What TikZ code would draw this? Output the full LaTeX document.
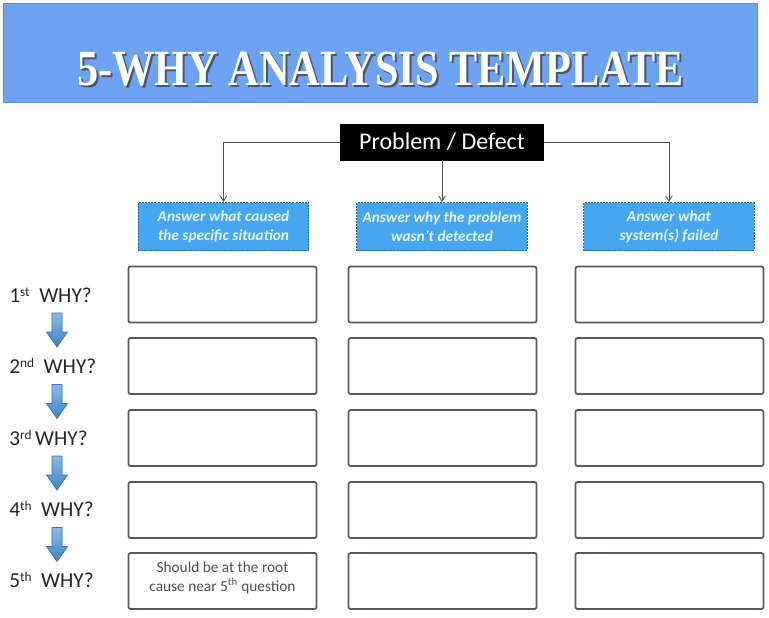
\documentclass[tikz,border=0pt]{standalone}
\usepackage{graphicx}
\usepackage{fontspec}
\setmainfont{Carlito}
\newfontfamily\titlefont{Liberation Serif}
\usetikzlibrary{arrows.meta}
\definecolor{bannerblue}{HTML}{6EA2F2}
\definecolor{bannerline}{HTML}{5B8DDB}
\definecolor{titleshadow}{HTML}{4A5570}
\definecolor{boxgray}{HTML}{555A5C}
\definecolor{qblue}{HTML}{47A6F0}
\definecolor{qborder}{HTML}{2E6A9E}
\definecolor{qtext}{HTML}{E4F8FF}
\definecolor{connc}{HTML}{505050}
\definecolor{arrtop}{HTML}{86BCEB}
\definecolor{arrbot}{HTML}{3E7FC4}
\definecolor{arrline}{HTML}{3A6EA8}
\definecolor{notegray}{HTML}{505050}
\newcommand{\titletext}{\scalebox{0.835}[1]{5-WHY ANALYSIS TEMPLATE}}
\newcommand{\ordsup}[1]{\raisebox{0.55ex}{\fontsize{10}{10}\selectfont #1}}
\tikzset{
  whybox/.style={draw=boxgray, line width=1.3pt, rounded corners=1.5pt, fill=white,
    minimum width=141pt, minimum height=42pt, inner sep=0pt},
  qbox/.style={draw=qborder, fill=qblue, line width=0.9pt, dash pattern=on 1.5pt off 0.8pt,
    minimum width=128pt, minimum height=36pt, inner sep=0pt, align=center,
    text=qtext, font=\fontsize{11.5}{14}\selectfont\bfseries\itshape},
  probbox/.style={fill=black, draw=black, minimum width=152pt, minimum height=27pt,
    inner sep=0pt, text=white, font=\fontsize{18}{20}\selectfont},
  conn/.style={draw=connc, line width=0.6pt, -{Straight Barb[length=4pt,width=5pt]}},
  whylabel/.style={anchor=west, inner sep=0pt, text=black!85, font=\fontsize{16}{19}\selectfont},
  downarrow/.style={draw=arrline, line width=0.5pt, top color=arrtop, bottom color=arrbot},
}
\begin{document}
\begin{tikzpicture}[x=0.75pt,y=-0.75pt]
\useasboundingbox (0,0) rectangle (769,618);
% banner
\fill[bannerblue, draw=bannerline, line width=0.6pt] (3,3) rectangle (757,102);
\node[text=white, font=\titlefont\bfseries\fontsize{38}{40}\selectfont] (title) at (380.5,70.5)
  {\makebox[0pt][l]{\hspace{1.4pt}\raisebox{-1.4pt}{\textcolor{titleshadow}{\titletext}}}\titletext};
% problem
\node[probbox] (prob) at (442,142) {Problem / Defect};
% question boxes
\node[qbox] (q1) at (223.5,226.5) {Answer what caused\\the specific situation};
\node[qbox] (q2) at (442,226.5) {Answer why the problem\\wasn't detected};
\node[qbox] (q3) at (669,226.5) {Answer what\\system(s) failed};
\draw[conn] (prob.west) -| (q1.north);
\draw[conn] (prob.south) -- (q2.north);
\draw[conn] (prob.east) -| (q3.north);
% grid of boxes
\foreach \r/\y in {1/294.5,2/366,3/438,4/510,5/581}{
  \node[whybox] (a\r) at (222.5,\y) {};
  \node[whybox] (b\r) at (442.5,\y) {};
  \node[whybox] (c\r) at (669.5,\y) {};
}
\node[align=center, text=notegray, font=\fontsize{11.5}{14}\selectfont] (note) at (222.5,578)
  {Should be at the root\\cause near 5\textsuperscript{th} question};
% why labels
\node[whylabel] (w1) at (9,295) {1\ordsup{st}\ \ WHY?};
\node[whylabel] (w2) at (9,366) {2\ordsup{nd}\ \ WHY?};
\node[whylabel] (w3) at (9,438) {3\ordsup{rd}\,WHY?};
\node[whylabel] (w4) at (9,509) {4\ordsup{th}\ \ WHY?};
\node[whylabel] (w5) at (9,580) {5\ordsup{th}\ \ WHY?};
% down arrows
\foreach \t in {313,384.5,456,527.5}{
  \path[downarrow] (52,\t) -- (62,\t) -- (62,\t+19) -- (67.5,\t+19) -- (57,\t+34)
    -- (46.5,\t+19) -- (52,\t+19) -- cycle;
}
\end{tikzpicture}
\end{document}
